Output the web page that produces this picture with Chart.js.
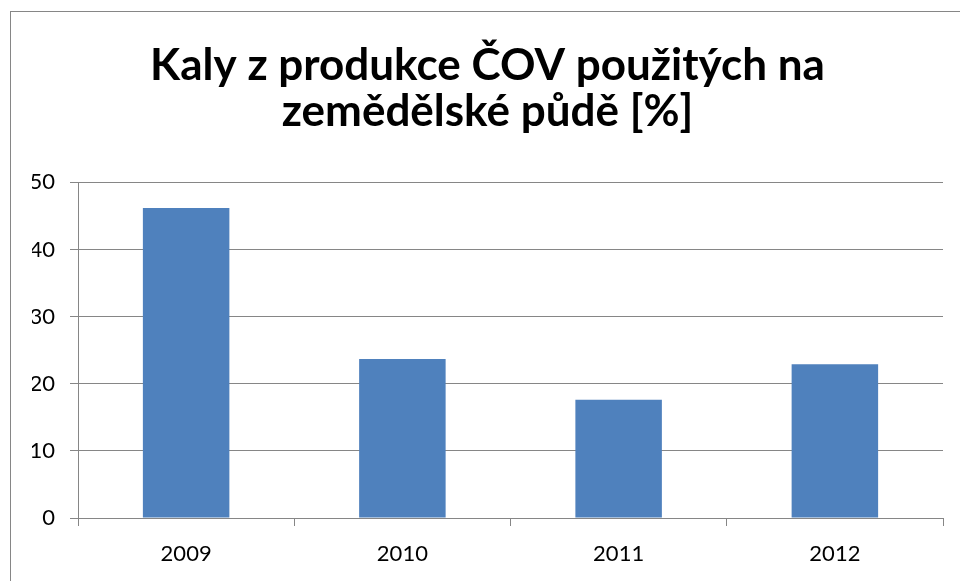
<!DOCTYPE html>
<html>
<head>
<meta charset="utf-8">
<script src="https://cdn.jsdelivr.net/npm/chart.js@4/dist/chart.umd.min.js"></script>
<style>
    html, body { margin: 0; padding: 0; background: #ffffff; }
    #wrap { position: relative; width: 960px; height: 581px; }
</style>
</head>
<body>
<div id="wrap"><canvas id="chart"></canvas></div>
<script>
const YEARS = ['2009', '2010', '2011', '2012'];
const SLUDGE_PCT = [46.2, 23.7, 17.6, 22.9];
const TITLE_LINES = ['Kaly z produkce ČOV použitých na', 'zemědělské půdě [%]'];
const Y_MIN = 0;
const Y_MAX = 50;
const Y_STEP = 10;

const GRID_COLOR = '#868686';
const BAR_COLOR = '#4f81bd';

// rámeček kolem celého grafu (jako v Excelu)
const frame = {
    id: 'frame',
    beforeDraw(chart) {
        const ctx = chart.ctx;
        ctx.save();
        ctx.fillStyle = '#ffffff';
        ctx.fillRect(0, 0, chart.width, chart.height);
        ctx.strokeStyle = GRID_COLOR;
        ctx.lineWidth = 1;
        ctx.strokeRect(10.5, 11.5, chart.width, chart.height);
        ctx.restore();
    }
};

new Chart(document.getElementById('chart'), {
    type: 'bar',
    data: {
        labels: YEARS,
        datasets: [{
            data: SLUDGE_PCT,
            backgroundColor: BAR_COLOR,
            barPercentage: 0.4,
            categoryPercentage: 1.0
        }]
    },
    options: {
        responsive: true,
        maintainAspectRatio: false,
        animation: false,
        // vetsi levy okraj posune nadpis doprava, osa y je zuzena o stejny kus
        layout: { padding: { left: 32, right: 17, top: 0, bottom: 0 } },
        plugins: {
            legend: { display: false },
            tooltip: { enabled: false },
            title: {
                display: true,
                text: TITLE_LINES,
                color: '#000',
                font: { family: 'Lato', size: 44, weight: 'bold', lineHeight: 1.05 },
                padding: { top: 43, bottom: 47 }
            }
        },
        scales: {
            x: {
                grid: {
                    drawOnChartArea: false,
                    color: GRID_COLOR,
                    tickLength: 8
                },
                border: { color: GRID_COLOR },
                ticks: {
                    color: '#000',
                    font: { family: 'Lato', size: 22 },
                    padding: 15
                },
                afterFit(scale) { scale.height = 63; }
            },
            y: {
                min: Y_MIN,
                max: Y_MAX,
                grid: {
                    color: GRID_COLOR,
                    tickLength: 8
                },
                border: { color: GRID_COLOR },
                ticks: {
                    stepSize: Y_STEP,
                    color: '#000',
                    font: { family: 'Lato', size: 22 },
                    padding: 15
                },
                afterFit(scale) { scale.width = 46; }
            }
        }
    },
    plugins: [frame]
});
</script>
</body>
</html>
